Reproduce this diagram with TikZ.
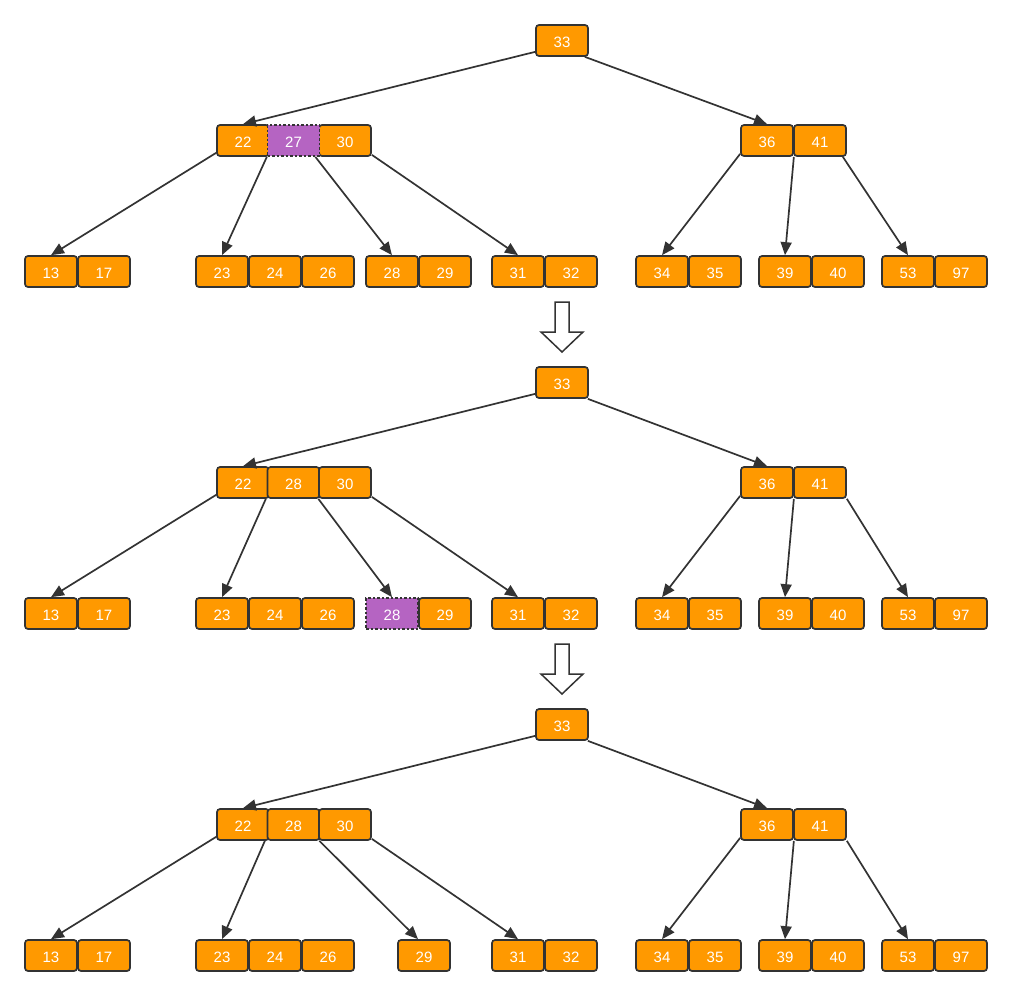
\documentclass[tikz,border=0pt]{standalone}
\usepackage{fontspec}
\setmainfont{Liberation Sans}
\usetikzlibrary{arrows.meta}
\definecolor{orangec}{HTML}{FF9900}
\definecolor{purplec}{HTML}{B564C2}
\definecolor{edgec}{HTML}{333333}
\tikzset{
  key/.style={draw=edgec, line width=1.7pt, fill=orangec, rounded corners=3pt,
    minimum width=52pt, minimum height=31pt, inner sep=0pt, text=white,
    text height=13pt, text depth=0pt,
    font=\fontsize{15}{17}\selectfont},
  hl/.style={key, fill=purplec, rounded corners=0pt, dash pattern=on 2.5pt off 2pt},
  link/.style={draw=edgec, line width=1.7pt, -{Triangle[length=13pt,width=11pt]}},
  bigarrow/.style={draw=edgec, line width=1.5pt, fill=white}
}
\begin{document}
\begin{tikzpicture}[x=1pt,y=-1pt]
\useasboundingbox (0,0) rectangle (1011,996);
% ---------------- Panel 1 ----------------
\node[key] (r1) at (562,40.5) {33};
\node[key] (a1) at (243,140.5) {22};
\node[key] (c1) at (345,140.5) {30};
\node[hl]  (b1) at (293.5,140.5) {27};
\node[key] (d1) at (767,140.5) {36};
\node[key] (e1) at (820,140.5) {41};
\node[key] (l13a) at (51,271.5) {13};
\node[key] (l17a) at (104,271.5) {17};
\node[key] (l23a) at (222,271.5) {23};
\node[key] (l24a) at (275,271.5) {24};
\node[key] (l26a) at (328,271.5) {26};
\node[key] (l28a) at (392,271.5) {28};
\node[key] (l29a) at (445,271.5) {29};
\node[key] (l31a) at (518,271.5) {31};
\node[key] (l32a) at (571,271.5) {32};
\node[key] (l34a) at (662,271.5) {34};
\node[key] (l35a) at (715,271.5) {35};
\node[key] (l39a) at (785,271.5) {39};
\node[key] (l40a) at (838,271.5) {40};
\node[key] (l53a) at (908,271.5) {53};
\node[key] (l97a) at (961,271.5) {97};
\draw[link] ([yshift=5pt]r1.south west) -- (a1.north);
\draw[link] ([xshift=-4pt]r1.south east) -- (d1.north);
\draw[link] ([yshift=4pt]a1.south west) -- (l13a.north);
\draw[link] ([xshift=-3pt]a1.south east) -- (l23a.north);
\draw[link] ([xshift=-5pt]b1.south east) -- (l28a.north);
\draw[link] ([yshift=2pt]c1.south east) -- (l31a.north);
\draw[link] ([yshift=3pt]d1.south west) -- (l34a.north);
\draw[link] (d1.south east) -- (l39a.north);
\draw[link] ([xshift=-4pt]e1.south east) -- (l53a.north);
\draw[bigarrow] (555,302) -- (569,302) -- (569,332) -- (583,332) -- (562,352) -- (541,332) -- (555,332) -- cycle;
% ---------------- Panel 2 ----------------
\node[key] (r2) at (562,382.5) {33};
\node[key] (a2) at (243,482.5) {22};
\node[key] (b2) at (293.5,482.5) {28};
\node[key] (c2) at (345,482.5) {30};
\node[key] (d2) at (767,482.5) {36};
\node[key] (e2) at (820,482.5) {41};
\node[key] (l13b) at (51,613.5) {13};
\node[key] (l17b) at (104,613.5) {17};
\node[key] (l23b) at (222,613.5) {23};
\node[key] (l24b) at (275,613.5) {24};
\node[key] (l26b) at (328,613.5) {26};
\node[key] (l29b) at (445,613.5) {29};
\node[hl]  (l28b) at (392,613.5) {28};
\node[key] (l31b) at (518,613.5) {31};
\node[key] (l32b) at (571,613.5) {32};
\node[key] (l34b) at (662,613.5) {34};
\node[key] (l35b) at (715,613.5) {35};
\node[key] (l39b) at (785,613.5) {39};
\node[key] (l40b) at (838,613.5) {40};
\node[key] (l53b) at (908,613.5) {53};
\node[key] (l97b) at (961,613.5) {97};
\draw[link] ([yshift=5pt]r2.south west) -- (a2.north);
\draw[link] ([xshift=-1pt]r2.south east) -- (d2.north);
\draw[link] ([yshift=4pt]a2.south west) -- (l13b.north);
\draw[link] ([xshift=-4pt]a2.south east) -- (l23b.north);
\draw[link] ([xshift=-2pt]b2.south east) -- (l28b.north);
\draw[link] ([yshift=2pt]c2.south east) -- (l31b.north);
\draw[link] ([yshift=3pt]d2.south west) -- (l34b.north);
\draw[link] (d2.south east) -- (l39b.north);
\draw[link] (e2.south east) -- (l53b.north);
\draw[bigarrow] (555,644) -- (569,644) -- (569,674) -- (583,674) -- (562,694) -- (541,674) -- (555,674) -- cycle;
% ---------------- Panel 3 ----------------
\node[key] (r3) at (562,724.5) {33};
\node[key] (a3) at (243,824.5) {22};
\node[key] (b3) at (293.5,824.5) {28};
\node[key] (c3) at (345,824.5) {30};
\node[key] (d3) at (767,824.5) {36};
\node[key] (e3) at (820,824.5) {41};
\node[key] (l13c) at (51,955.5) {13};
\node[key] (l17c) at (104,955.5) {17};
\node[key] (l23c) at (222,955.5) {23};
\node[key] (l24c) at (275,955.5) {24};
\node[key] (l26c) at (328,955.5) {26};
\node[key] (l29c) at (424,955.5) {29};
\node[key] (l31c) at (518,955.5) {31};
\node[key] (l32c) at (571,955.5) {32};
\node[key] (l34c) at (662,955.5) {34};
\node[key] (l35c) at (715,955.5) {35};
\node[key] (l39c) at (785,955.5) {39};
\node[key] (l40c) at (838,955.5) {40};
\node[key] (l53c) at (908,955.5) {53};
\node[key] (l97c) at (961,955.5) {97};
\draw[link] ([yshift=5pt]r3.south west) -- (a3.north);
\draw[link] ([xshift=-1pt]r3.south east) -- (d3.north);
\draw[link] ([yshift=4pt]a3.south west) -- (l13c.north);
\draw[link] ([xshift=-5pt]a3.south east) -- (l23c.north);
\draw[link] ([xshift=-1pt]b3.south east) -- ([xshift=-6pt]l29c.north);
\draw[link] ([yshift=2pt]c3.south east) -- (l31c.north);
\draw[link] ([yshift=3pt]d3.south west) -- (l34c.north);
\draw[link] (d3.south east) -- (l39c.north);
\draw[link] (e3.south east) -- (l53c.north);
\end{tikzpicture}
\end{document}
